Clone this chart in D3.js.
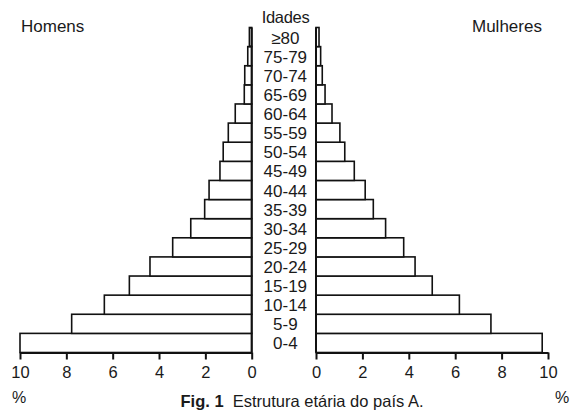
<!DOCTYPE html>
<html>
<head>
<meta charset="utf-8">
<script src="https://cdn.jsdelivr.net/npm/d3@7"></script>
<style>
  html, body { margin: 0; padding: 0; background: #fff; }
  svg { display: block; font-family: "Liberation Sans", Arial, Helvetica, sans-serif; }
</style>
</head>
<body>
<svg id="chart" width="580" height="410"></svg>
<script>
// Age groups from bottom (youngest) to top (oldest)
const ageGroups = ["0-4","5-9","10-14","15-19","20-24","25-29","30-34","35-39","40-44","45-49","50-54","55-59","60-64","65-69","70-74","75-79","≥80"];
// Percent of population
const men   = [10.0, 7.77, 6.36, 5.28, 4.39, 3.41, 2.63, 2.03, 1.84, 1.37, 1.23, 1.01, 0.71, 0.32, 0.30, 0.17, 0.10];
const women = [9.75, 7.54, 6.18, 5.01, 4.27, 3.78, 3.00, 2.47, 2.12, 1.65, 1.24, 1.03, 0.69, 0.39, 0.27, 0.20, 0.13];
const tickValues = [0, 2, 4, 6, 8, 10];
const titleLeft = "Homens";
const titleRight = "Mulheres";
const titleCenter = "Idades";
const unitLabel = "%";
const captionBold = "Fig. 1";
const captionText = "Estrutura etária do país A.";

(function () {
const svg = d3.select("#chart");
const plotTop = 27.5, plotBottom = 352.5;
const leftZero = 251.7, leftEnd = 20;
const rightZero = 316, rightEnd = 548;
const textColor = "#1a1a1a";

const y = d3.scaleBand()
  .domain(ageGroups.slice().reverse())
  .range([plotTop, plotBottom])
  .paddingInner(0).paddingOuter(0);

const xL = d3.scaleLinear().domain([0, 10]).range([leftZero, leftEnd]);
const xR = d3.scaleLinear().domain([0, 10]).range([rightZero, rightEnd]);

const data = ageGroups.map((a, i) => ({ age: a, m: men[i], f: women[i] }));

// Men bars
svg.append("g").selectAll("rect").data(data).join("rect")
  .attr("x", d => xL(d.m))
  .attr("y", d => y(d.age))
  .attr("width", d => xL(0) - xL(d.m))
  .attr("height", y.bandwidth())
  .attr("fill", "#fff")
  .attr("stroke", "#111")
  .attr("stroke-width", 1.6);

// Women bars
svg.append("g").selectAll("rect").data(data).join("rect")
  .attr("x", xR(0))
  .attr("y", d => y(d.age))
  .attr("width", d => xR(d.f) - xR(0))
  .attr("height", y.bandwidth())
  .attr("fill", "#fff")
  .attr("stroke", "#111")
  .attr("stroke-width", 1.6);

// Vertical axis lines
[leftZero, rightZero].forEach(x => {
  svg.append("line")
    .attr("x1", x).attr("x2", x)
    .attr("y1", plotTop).attr("y2", plotBottom)
    .attr("stroke", "#111").attr("stroke-width", 2);
});

// Bottom axes
function styleAxis(g) {
  g.select(".domain").attr("stroke", "#111").attr("stroke-width", 2);
  g.selectAll(".tick line").attr("stroke", "#111").attr("stroke-width", 2);
  g.selectAll(".tick text").attr("fill", textColor)
    .style("font-size", "16.5px")
    .style("font-family", "'Liberation Sans', Arial, Helvetica, sans-serif");
}
svg.append("g")
  .attr("transform", `translate(0,${plotBottom})`)
  .call(d3.axisBottom(xL).tickValues(tickValues).tickSize(7).tickSizeOuter(0).tickPadding(7).tickFormat(d3.format("d")))
  .call(styleAxis);
svg.append("g")
  .attr("transform", `translate(0,${plotBottom})`)
  .call(d3.axisBottom(xR).tickValues(tickValues).tickSize(7).tickSizeOuter(0).tickPadding(7).tickFormat(d3.format("d")))
  .call(styleAxis);

// Age labels
svg.append("g").selectAll("text").data(data).join("text")
  .attr("x", (leftZero + rightZero) / 2 + 1.5)
  .attr("y", d => y(d.age) + y.bandwidth() / 2 + 6.5)
  .attr("text-anchor", "middle")
  .attr("fill", textColor)
  .style("font-size", "17px")
  .text(d => d.age);

// Titles
svg.append("text").attr("x", 285.5).attr("y", 23).attr("text-anchor", "middle")
  .attr("fill", textColor).style("font-size", "16.5px").style("letter-spacing", "-0.3px").text(titleCenter);
svg.append("text").attr("x", 21).attr("y", 31.5)
  .attr("fill", textColor).style("font-size", "17px").text(titleLeft);
svg.append("text").attr("x", 472).attr("y", 31.5)
  .attr("fill", textColor).style("font-size", "17px").text(titleRight);

// Unit labels
svg.append("text").attr("x", 19).attr("y", 403).attr("text-anchor", "middle")
  .attr("fill", textColor).style("font-size", "16px").text(unitLabel);
svg.append("text").attr("x", 562).attr("y", 403).attr("text-anchor", "middle")
  .attr("fill", textColor).style("font-size", "16px").text(unitLabel);

// Caption
const cap = svg.append("text").attr("x", 302).attr("y", 407).attr("text-anchor", "middle")
  .attr("fill", textColor).style("font-size", "16.5px");
cap.append("tspan").style("font-weight", "bold").text(captionBold);
cap.append("tspan").text("\u00a0\u00a0" + captionText);
})();
</script>
</body>
</html>
